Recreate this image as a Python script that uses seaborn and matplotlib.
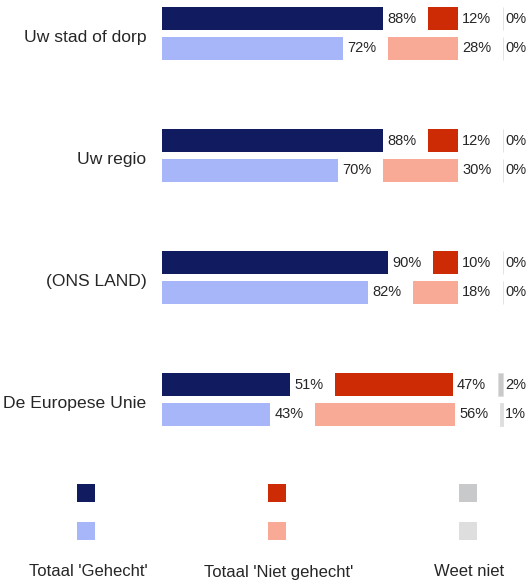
import matplotlib
matplotlib.use('Agg')
import matplotlib.pyplot as plt
import seaborn as sns
import pandas as pd
from matplotlib.patches import Rectangle

# Gegevens
categorieen = ['Uw stad of dorp', 'Uw regio', '(ONS LAND)', 'De Europese Unie']
reeksen = ['reeks 1', 'reeks 2']
gehecht_1 = [88, 88, 90, 51]
gehecht_2 = [72, 70, 82, 43]
niet_1 = [12, 12, 10, 47]
niet_2 = [28, 30, 18, 56]
weet_1 = [0, 0, 0, 2]
weet_2 = [0, 0, 0, 1]
legenda = ["Totaal 'Gehecht'", "Totaal 'Niet gehecht'", 'Weet niet']

kleur_gehecht = ['#101B60', '#A7B5F9']
kleur_niet = ['#CC2B05', '#F9AA96']
kleur_weet = ['#C8C9CB', '#DEDEDE']
tekstkleur = '#262626'

sns.set_theme(style='white')
plt.rcParams['font.family'] = ['Liberation Sans', 'DejaVu Sans']

W, H = 531, 586
fig = plt.figure(figsize=(W / 100, H / 100), dpi=100)

# assen: x in procenten, 2.51 px per procent, start bij pixel 162
schaal = 2.51
x0_px = 162
ax = fig.add_axes([x0_px / W, 0, 1 - x0_px / W, 1])

df = pd.DataFrame({
    'categorie': categorieen * 2,
    'reeks': [reeksen[0]] * 4 + [reeksen[1]] * 4,
    'waarde': gehecht_1 + gehecht_2,
})

sns.barplot(data=df, y='categorie', x='waarde', hue='reeks', order=categorieen,
            hue_order=reeksen, palette=kleur_gehecht, saturation=1, orient='h',
            width=0.49, gap=0.22, legend=False, linewidth=0, ax=ax)

offset = 0.1225
hoogte = 0.19
r_niet = (458 - x0_px) / schaal
r_weet = (503 - x0_px) / schaal

for j, (g, n, w) in enumerate([(gehecht_1, niet_1, weet_1), (gehecht_2, niet_2, weet_2)]):
    ys = [i + (2 * j - 1) * offset for i in range(len(categorieen))]
    links_niet = [r_niet - wv - nv for nv, wv in zip(n, w)]
    links_weet = [r_weet - wv for wv in w]
    ax.barh(ys, n, left=links_niet, height=hoogte, color=kleur_niet[j], linewidth=0)
    ax.barh(ys, w, left=links_weet, height=hoogte, color=kleur_weet[j],
            edgecolor=kleur_weet[1], linewidth=0.6)
    for y, gv, nv, wv, ln in zip(ys, g, n, w, links_niet):
        ax.text(gv + 1.8, y, f'{gv}%', ha='left', va='center', fontsize=10.5, color=tekstkleur)
        ax.text(ln + nv + 1.6, y, f'{nv}%', ha='left', va='center', fontsize=10.5, color=tekstkleur)
        ax.text(r_weet + 0.8, y, f'{wv}%', ha='left', va='center', fontsize=10.5, color=tekstkleur)

for i, naam in enumerate(categorieen):
    ax.text(-6.2, i + 0.035, naam, ha='right', va='center', fontsize=12.6,
            color=tekstkleur, clip_on=False)

ax.set_xlim(0, (W - x0_px) / schaal)
ax.set_ylim((H - 33.5) / 122, -33.5 / 122)
ax.axis('off')

# legenda
kolommen = [(86, 88), (277, 279), (468, 469)]
paren = [kleur_gehecht, kleur_niet, kleur_weet]
for (xc, xt), kleuren, label in zip(kolommen, paren, legenda):
    for yc, kl in zip([493, 531], kleuren):
        fig.add_artist(Rectangle(((xc - 9) / W, 1 - (yc + 9) / H), 18 / W, 18 / H,
                                 transform=fig.transFigure, color=kl, lw=0))
    fig.text(xt / W, 1 - 572 / H, label, ha='center', va='center', fontsize=12,
             color=tekstkleur)

fig.savefig('out.png', dpi=100)
